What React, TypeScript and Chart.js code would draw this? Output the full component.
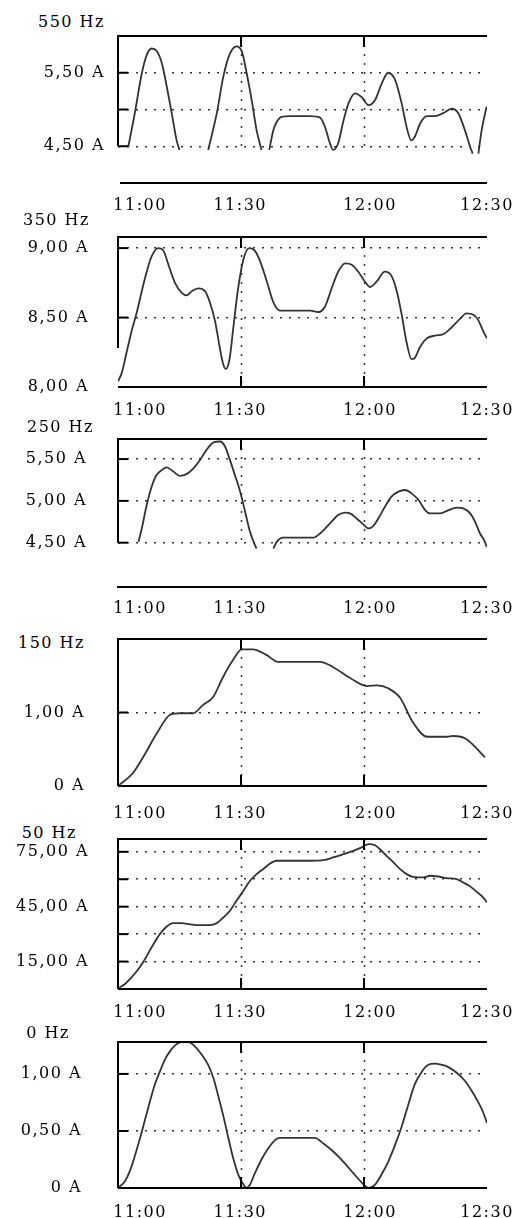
import React, { useEffect, useRef } from 'react';
import { Chart, registerables } from 'chart.js';

Chart.register(...registerables);

// ---- shared axis text ----
const xTickLabels = ['11:00', '11:30', '12:00', '12:30'];
const xLabelAt = [5.4, 29.8, 61.5, 90]; // minutes after 11:00 where the time labels sit
const xGridAt = [30, 60]; // 11:30, 12:00

// ---- 550 Hz ----
const p1Title = '550 Hz';
const p1Times = [2.5, 4.1, 5.8, 7.0, 8.2, 9.4, 10.7, 11.9, 13.1, 14.3, 15.0, 18.5, 22.0, 22.4, 24.1, 25.7, 27.3, 28.9, 30.2, 31.4, 32.6, 33.8, 35.0, 36.0, 36.9, 37.9, 38.7, 39.9, 42.0, 46.8, 49.3, 50.5, 51.7, 52.5, 53.7, 55.0, 56.2, 57.8, 59.4, 61.1, 62.7, 64.3, 65.9, 67.6, 69.2, 70.4, 71.5, 72.4, 73.7, 75.3, 77.3, 79.3, 81.4, 83.0, 84.6, 85.9, 86.5, 87.2, 87.9, 88.7, 89.9];
const p1Values = [4.49, 4.95, 5.49, 5.74, 5.83, 5.80, 5.63, 5.31, 4.95, 4.58, 4.45, null, 4.45, 4.54, 4.95, 5.45, 5.76, 5.86, 5.79, 5.49, 5.13, 4.72, 4.45, null, 4.45, 4.72, 4.83, 4.90, 4.91, 4.91, 4.89, 4.76, 4.54, 4.45, 4.54, 4.85, 5.08, 5.22, 5.17, 5.06, 5.13, 5.35, 5.50, 5.40, 5.08, 4.76, 4.58, 4.63, 4.81, 4.91, 4.91, 4.95, 5.01, 4.95, 4.72, 4.49, 4.40, null, 4.40, 4.72, 5.04];
const p1Grid = [4.5, 5.0, 5.5];
const p1Labels = ['4,50 A', '', '5,50 A'];

// ---- 350 Hz ----
const p2Title = '350 Hz';
const p2Times = [0, 0.9, 2.1, 3.3, 4.6, 5.8, 7.0, 8.2, 9.8, 11.1, 12.3, 13.9, 15.5, 16.7, 18.0, 19.6, 21.2, 22.4, 23.7, 24.9, 25.7, 26.3, 27.2, 28.1, 29.3, 30.6, 32.0, 33.4, 34.6, 36.3, 37.9, 39.5, 41.1, 46.8, 48.9, 50.5, 52.1, 53.7, 55.4, 57.0, 58.6, 60.2, 61.5, 63.1, 65.1, 66.7, 68.0, 69.2, 70.4, 71.6, 72.4, 73.7, 75.3, 77.3, 79.3, 81.4, 83.4, 85.0, 86.7, 87.9, 89.1, 90.0];
const p2Values = [8.04, 8.10, 8.25, 8.40, 8.54, 8.69, 8.83, 8.94, 9.00, 8.98, 8.88, 8.75, 8.68, 8.66, 8.69, 8.71, 8.69, 8.61, 8.47, 8.27, 8.16, 8.13, 8.20, 8.42, 8.71, 8.92, 9.00, 8.98, 8.91, 8.76, 8.61, 8.55, 8.55, 8.55, 8.54, 8.58, 8.71, 8.83, 8.89, 8.88, 8.83, 8.76, 8.72, 8.76, 8.83, 8.80, 8.69, 8.52, 8.32, 8.20, 8.21, 8.29, 8.35, 8.37, 8.38, 8.43, 8.49, 8.53, 8.52, 8.48, 8.40, 8.35];
const p2Grid = [8.0, 8.5, 9.0];
const p2Labels = ['8,00 A', '8,50 A', '9,00 A'];

// ---- 250 Hz ----
const p3Title = '250 Hz';
const p3Times = [5.0, 5.8, 7.0, 8.2, 9.4, 10.7, 11.9, 13.5, 15.1, 16.7, 18.4, 20.0, 21.6, 23.3, 24.9, 26.1, 27.3, 28.5, 29.8, 31.0, 32.2, 33.4, 33.8, 36.0, 37.9, 38.7, 40.3, 42.4, 47.6, 49.3, 51.7, 53.7, 55.4, 56.6, 58.2, 59.8, 61.1, 62.3, 63.5, 65.1, 66.7, 68.4, 70.0, 71.6, 73.3, 74.9, 76.1, 78.5, 80.2, 82.6, 84.2, 85.9, 87.1, 88.3, 89.5, 89.9];
const p3Values = [4.51, 4.67, 4.95, 5.17, 5.31, 5.37, 5.40, 5.35, 5.30, 5.32, 5.39, 5.49, 5.61, 5.70, 5.71, 5.65, 5.49, 5.31, 5.11, 4.87, 4.63, 4.47, 4.43, null, 4.43, 4.51, 4.56, 4.56, 4.56, 4.61, 4.73, 4.83, 4.86, 4.85, 4.79, 4.72, 4.67, 4.70, 4.79, 4.93, 5.05, 5.11, 5.13, 5.09, 5.01, 4.89, 4.85, 4.85, 4.88, 4.92, 4.91, 4.85, 4.75, 4.61, 4.51, 4.45];
const p3Grid = [4.5, 5.0, 5.5];
const p3Labels = ['4,50 A', '5,00 A', '5,50 A'];

// ---- 150 Hz ----
const p4Title = '150 Hz';
const p4Times = [0, 3.7, 6.1, 9.5, 12.7, 15.1, 18.3, 20.7, 23.2, 25.6, 28.0, 30.2, 32.9, 36.3, 39.0, 49.3, 52.4, 56.6, 60.7, 63.2, 65.9, 68.8, 72.0, 75.4, 80.2, 81.7, 84.6, 86.6, 89.5];
const p4Values = [0, 0.18, 0.39, 0.72, 0.97, 0.99, 0.99, 1.10, 1.21, 1.48, 1.71, 1.86, 1.86, 1.78, 1.69, 1.69, 1.62, 1.47, 1.36, 1.37, 1.33, 1.20, 0.86, 0.67, 0.67, 0.68, 0.65, 0.56, 0.39];
const p4Grid = [0, 1.0];
const p4Labels = ['0 A', '1,00 A'];

// ---- 50 Hz ----
const p5Title = '50 Hz';
const p5Times = [0, 1.7, 3.3, 5.0, 6.6, 8.2, 10.2, 11.9, 13.5, 15.5, 17.6, 19.2, 22.4, 24.1, 25.7, 27.3, 28.9, 30.6, 32.2, 33.8, 35.4, 37.1, 38.7, 46.8, 50.1, 52.5, 55.0, 57.4, 59.4, 61.1, 62.7, 63.9, 65.5, 67.2, 68.8, 70.4, 72.0, 74.5, 76.1, 78.1, 80.2, 82.6, 84.2, 85.9, 87.5, 89.1, 90.0];
const p5Values = [0.4, 2.7, 6.4, 10.9, 16.4, 22.8, 30.0, 34.2, 36.0, 36.0, 35.3, 34.9, 34.9, 36.0, 39.1, 42.8, 48.2, 53.7, 59.2, 62.8, 65.5, 68.6, 70.1, 70.1, 70.4, 71.9, 73.7, 75.5, 77.4, 79.2, 78.6, 76.4, 72.8, 69.2, 65.5, 62.8, 61.3, 61.0, 61.9, 61.5, 60.6, 60.1, 58.2, 56.1, 53.1, 50.0, 47.3];
const p5Grid = [15, 30, 45, 60, 75];
const p5Labels = ['15,00 A', '', '45,00 A', '', '75,00 A'];

// ---- 0 Hz ----
const p6Title = '0 Hz';
const p6Times = [0, 1.7, 2.9, 4.1, 5.4, 6.6, 7.8, 9.0, 10.2, 11.5, 12.7, 13.9, 15.5, 17.2, 18.8, 20.4, 22.0, 23.3, 24.5, 25.7, 26.9, 28.1, 29.3, 30.6, 31.4, 32.2, 33.4, 35.0, 36.7, 38.3, 39.5, 48.0, 50.1, 52.5, 55.0, 57.4, 59.4, 61.1, 62.7, 64.3, 65.9, 67.6, 69.2, 70.8, 72.4, 74.1, 75.7, 77.3, 78.9, 80.6, 82.6, 84.6, 86.3, 87.9, 89.1, 90.0];
const p6Values = [0, 0.06, 0.15, 0.28, 0.44, 0.60, 0.76, 0.91, 1.02, 1.13, 1.20, 1.25, 1.28, 1.28, 1.24, 1.17, 1.08, 0.96, 0.80, 0.63, 0.44, 0.26, 0.12, 0.03, 0, 0.03, 0.13, 0.25, 0.35, 0.42, 0.44, 0.44, 0.39, 0.32, 0.23, 0.13, 0.05, 0, 0.03, 0.12, 0.23, 0.38, 0.54, 0.73, 0.91, 1.02, 1.08, 1.09, 1.08, 1.06, 1.01, 0.94, 0.85, 0.75, 0.66, 0.57];
const p6Grid = [0, 0.5, 1.0];
const p6Labels = ['0 A', '0,50 A', '1,00 A'];

// ---- layout / style (kept apart from the data) ----
const FONT_FAMILY = "'DejaVu Serif', 'Liberation Serif', serif";
const FONT_SIZE = 16;
const LETTER_SPACING = '1.5px';
const PAGE_W = 525;
const PLOT_LEFT = 118;
const PLOT_RIGHT = 487;
const X_AXIS_H = 34;
const TOP_PAD = 10;

type Layout = {
  top: number; bottom: number; yMin: number; yMax: number;
  yPad: number; xPad: number; vGridTo: number; leftTo: number;
  bottomStart: number; bottomTicks: boolean; titleRight: number; titleY: number;
};

const layouts: Layout[] = [
  { top: 36, bottom: 183, yMin: 4.0, yMax: 6.0, yPad: 13, xPad: 13, vGridTo: 4.5, leftTo: 4.5, bottomStart: 120, bottomTicks: false, titleRight: 103, titleY: 22 },
  { top: 237, bottom: 387, yMin: 8.0, yMax: 9.08, yPad: 29, xPad: 14, vGridTo: 8.0, leftTo: 8.28, bottomStart: 118, bottomTicks: true, titleRight: 88, titleY: 220 },
  { top: 439, bottom: 587, yMin: 3.97, yMax: 5.74, yPad: 31, xPad: 12, vGridTo: 4.5, leftTo: 4.5, bottomStart: 117, bottomTicks: false, titleRight: 92, titleY: 427 },
  { top: 639, bottom: 786, yMin: 0, yMax: 2.0, yPad: 33, xPad: 18, vGridTo: 0, leftTo: 0, bottomStart: 118, bottomTicks: true, titleRight: 83, titleY: 643 },
  { top: 839, bottom: 989, yMin: 0, yMax: 82, yPad: 29, xPad: 14, vGridTo: 0, leftTo: 0, bottomStart: 118, bottomTicks: true, titleRight: 75, titleY: 833 },
  { top: 1042, bottom: 1188, yMin: 0, yMax: 1.28, yPad: 36, xPad: 15, vGridTo: 0, leftTo: 0, bottomStart: 118, bottomTicks: true, titleRight: 68, titleY: 1033 },
];

const series = [
  { title: p1Title, times: p1Times, values: p1Values, grid: p1Grid, labels: p1Labels },
  { title: p2Title, times: p2Times, values: p2Values, grid: p2Grid, labels: p2Labels },
  { title: p3Title, times: p3Times, values: p3Values, grid: p3Grid, labels: p3Labels },
  { title: p4Title, times: p4Times, values: p4Values, grid: p4Grid, labels: p4Labels },
  { title: p5Title, times: p5Times, values: p5Values, grid: p5Grid, labels: p5Labels },
  { title: p6Title, times: p6Times, values: p6Values, grid: p6Grid, labels: p6Labels },
];

const framePlugin = {
  id: 'panelFrame',
  beforeUpdate(chart: any) {
    chart.ctx.letterSpacing = LETTER_SPACING;
  },
  beforeDraw(chart: any) {
    chart.ctx.letterSpacing = LETTER_SPACING;
  },
  beforeDatasetsDraw(chart: any, _args: any, opts: any) {
    const { ctx, chartArea: a, scales } = chart;
    const xs = scales.x;
    const ys = scales.y;
    const yEnd = ys.getPixelForValue(opts.vGridTo);
    ctx.save();
    ctx.strokeStyle = '#333';
    ctx.lineWidth = 1.5;
    ctx.setLineDash([2, 7]);
    for (const v of opts.vGrid) {
      const x = Math.round(xs.getPixelForValue(v)) + 0.5;
      ctx.beginPath();
      ctx.moveTo(x, a.top);
      ctx.lineTo(x, yEnd);
      ctx.stroke();
    }
    ctx.restore();
  },
  afterDatasetsDraw(chart: any, _args: any, opts: any) {
    const { ctx, chartArea: a, scales } = chart;
    const xs = scales.x;
    const ys = scales.y;
    ctx.save();
    ctx.strokeStyle = '#000';
    ctx.lineWidth = 2;
    ctx.setLineDash([]);
    // top line
    ctx.beginPath();
    ctx.moveTo(a.left - 1, a.top);
    ctx.lineTo(a.right, a.top);
    ctx.stroke();
    // left line
    ctx.beginPath();
    ctx.moveTo(a.left, a.top);
    ctx.lineTo(a.left, ys.getPixelForValue(opts.leftTo));
    ctx.stroke();
    // bottom line
    ctx.beginPath();
    ctx.moveTo(opts.bottomStart, a.bottom);
    ctx.lineTo(a.right, a.bottom);
    ctx.stroke();
    // short solid marks on the y grid lines
    for (const v of opts.yGrid) {
      const y = ys.getPixelForValue(v);
      ctx.beginPath();
      ctx.moveTo(a.left, y);
      ctx.lineTo(a.left + 10, y);
      ctx.stroke();
    }
    // short solid marks on the time grid lines
    for (const v of opts.vGrid) {
      const x = Math.round(xs.getPixelForValue(v));
      ctx.beginPath();
      ctx.moveTo(x, a.top);
      ctx.lineTo(x, a.top + 11);
      ctx.stroke();
      if (opts.bottomTicks) {
        ctx.beginPath();
        ctx.moveTo(x, a.bottom - 11);
        ctx.lineTo(x, a.bottom);
        ctx.stroke();
      }
    }
    ctx.restore();
  },
};

function resetPadding(s: any) {
  s.paddingLeft = 0;
  s.paddingRight = 0;
  s.paddingTop = 0;
  s.paddingBottom = 0;
}

function Panel({ s, l }: { s: typeof series[number]; l: Layout }) {
  const ref = useRef<HTMLCanvasElement>(null);
  const height = TOP_PAD + (l.bottom - l.top) + X_AXIS_H;

  useEffect(() => {
    const font = { family: FONT_FAMILY, size: FONT_SIZE };
    const points = s.times.map((t, i) => ({ x: t, y: s.values[i] }));
    const chart = new Chart(ref.current as HTMLCanvasElement, {
      type: 'line',
      data: {
        datasets: [
          {
            data: points as any,
            borderColor: '#333',
            borderWidth: 1.8,
            pointRadius: 0,
            fill: false,
            tension: 0.3,
            cubicInterpolationMode: 'monotone',
            spanGaps: false,
          },
        ],
      },
      options: {
        animation: false,
        responsive: false,
        devicePixelRatio: 1,
        events: [],
        layout: {
          padding: { left: 0, top: TOP_PAD, right: PAGE_W - PLOT_RIGHT, bottom: 0 },
        },
        plugins: {
          legend: { display: false },
          tooltip: { enabled: false },
          title: { display: false },
          panelFrame: {
            vGrid: xGridAt,
            yGrid: s.grid,
            vGridTo: l.vGridTo,
            leftTo: l.leftTo,
            bottomStart: l.bottomStart,
            bottomTicks: l.bottomTicks,
          },
        } as any,
        scales: {
          x: {
            type: 'linear',
            min: 0,
            max: 90,
            bounds: 'data',
            grid: { display: false, drawTicks: false },
            border: { display: false },
            ticks: {
              padding: l.xPad,
              font,
              color: '#000',
              maxRotation: 0,
              minRotation: 0,
              autoSkip: false,
              callback: (_v: any, i: number) => xTickLabels[i] ?? '',
            },
            afterBuildTicks: (sc: any) => {
              sc.ticks = xLabelAt.map((v) => ({ value: v }));
            },
            afterFit: (sc: any) => {
              sc.height = X_AXIS_H;
              resetPadding(sc);
            },
          },
          y: {
            type: 'linear',
            position: 'left',
            min: l.yMin,
            max: l.yMax,
            bounds: 'data',
            grid: { color: '#333', lineWidth: 1.5, drawTicks: false },
            border: { display: false, dash: [2, 7] },
            ticks: {
              padding: l.yPad,
              font,
              color: '#000',
              autoSkip: false,
              callback: (_v: any, i: number) => s.labels[i] ?? '',
            },
            afterBuildTicks: (sc: any) => {
              sc.ticks = s.grid.map((v) => ({ value: v }));
            },
            afterFit: (sc: any) => {
              sc.width = PLOT_LEFT;
              resetPadding(sc);
            },
          },
        } as any,
      },
      plugins: [framePlugin as any],
    });
    return () => chart.destroy();
  }, []);

  return (
    <>
      <div
        style={{
          position: 'absolute',
          left: 0,
          top: l.titleY - 11,
          width: l.titleRight + 2,
          height: 22,
          lineHeight: '22px',
          textAlign: 'right',
          fontFamily: FONT_FAMILY,
          fontSize: FONT_SIZE,
          letterSpacing: LETTER_SPACING,
          color: '#000',
          whiteSpace: 'nowrap',
        }}
      >
        {s.title}
      </div>
      <canvas
        ref={ref}
        width={PAGE_W}
        height={height}
        style={{ position: 'absolute', left: 0, top: l.top - TOP_PAD, width: PAGE_W, height }}
      />
    </>
  );
}

export default function App() {
  return (
    <div
      style={{
        position: 'absolute',
        left: 0,
        top: 0,
        width: PAGE_W,
        height: 1218,
        background: '#fff',
        overflow: 'hidden',
      }}
    >
      {series.map((s, i) => (
        <Panel key={i} s={s} l={layouts[i]} />
      ))}
    </div>
  );
}
